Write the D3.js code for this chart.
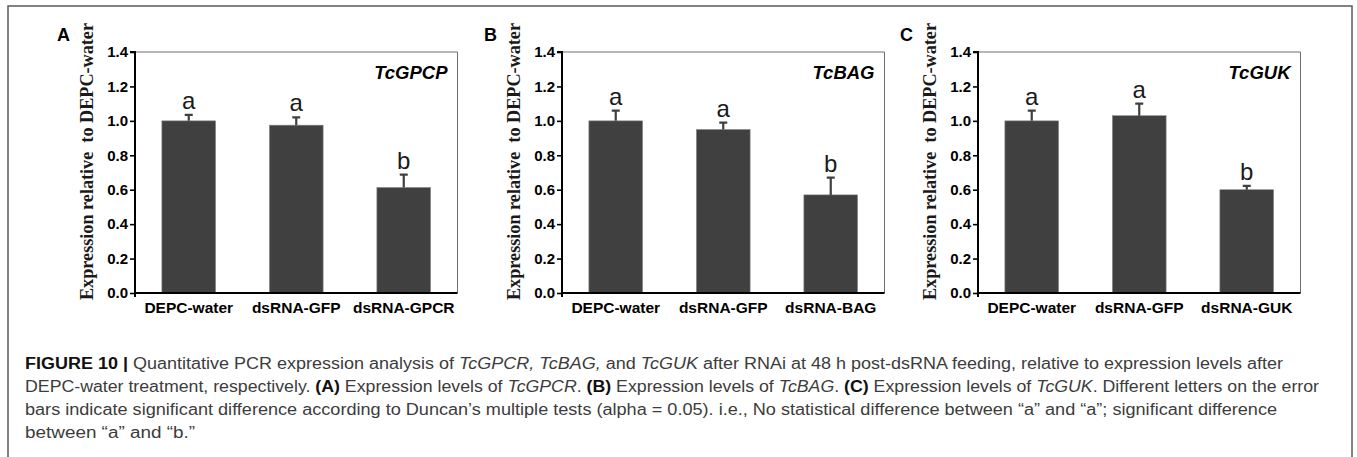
<!DOCTYPE html>
<html>
<head>
<meta charset="utf-8">
<script src="https://cdn.jsdelivr.net/npm/d3@7"></script>
<style>
  html, body { margin: 0; padding: 0; background: #fff; }
  svg { display: block; }
  text { white-space: pre; }
</style>
</head>
<body>
<svg id="chart" width="1357" height="457"></svg>
<script>
// ---- Data ----
const panelLabels = ["A", "B", "C"];
const genes = ["TcGPCP", "TcBAG", "TcGUK"];
const categoriesA = ["DEPC-water", "dsRNA-GFP", "dsRNA-GPCR"];
const categoriesB = ["DEPC-water", "dsRNA-GFP", "dsRNA-BAG"];
const categoriesC = ["DEPC-water", "dsRNA-GFP", "dsRNA-GUK"];
const valuesA = [1.00, 0.975, 0.613];
const valuesB = [1.00, 0.95, 0.57];
const valuesC = [1.00, 1.03, 0.60];
const errorsA = [0.035, 0.045, 0.075];
const errorsB = [0.06, 0.04, 0.10];
const errorsC = [0.06, 0.07, 0.022];
const lettersA = ["a", "a", "b"];
const lettersB = ["a", "a", "b"];
const lettersC = ["a", "a", "b"];
const yTicks = [0, 0.2, 0.4, 0.6, 0.8, 1.0, 1.2, 1.4];
const yLabel = "Expression relative  to DEPC-water";

const panels = [
  { label: panelLabels[0], gene: genes[0], cats: categoriesA, vals: valuesA, errs: errorsA, letters: lettersA },
  { label: panelLabels[1], gene: genes[1], cats: categoriesB, vals: valuesB, errs: errorsB, letters: lettersB },
  { label: panelLabels[2], gene: genes[2], cats: categoriesC, vals: valuesC, errs: errorsC, letters: lettersC }
];

// ---- Layout ----
const svg = d3.select("#chart");
const plotLefts = [135, 562, 978];
const plotW = 322.5;
const plotTop = 52, plotBottom = 293;
const barColor = "#404040";

// outer frame
svg.append("rect")
  .attr("x", 8).attr("y", 6).attr("width", 1344).attr("height", 480)
  .attr("fill", "none").attr("stroke", "#5a5a5a").attr("stroke-width", 1.5);

const y = d3.scaleLinear().domain([0, 1.4]).range([plotBottom, plotTop]);

panels.forEach((p, i) => {
  const left = plotLefts[i];
  const x = d3.scaleBand().domain(p.cats).range([left, left + plotW])
    .paddingInner(0.5).paddingOuter(0.25);
  const g = svg.append("g");

  // top and right border
  g.append("path")
    .attr("d", `M${left},${plotTop}H${left + plotW}V${plotBottom}`)
    .attr("fill", "none").attr("stroke", "#6e6e6e").attr("stroke-width", 1);

  // bars
  g.selectAll("rect.bar").data(p.vals).join("rect")
    .attr("class", "bar")
    .attr("x", (d, j) => x(p.cats[j]))
    .attr("width", x.bandwidth())
    .attr("y", d => y(d))
    .attr("height", d => y(0) - y(d))
    .attr("fill", barColor)
    .attr("stroke", "#8a8a8a").attr("stroke-width", 0.6);

  // error bars (upper only)
  const cx = j => x(p.cats[j]) + x.bandwidth() / 2;
  g.selectAll("path.err").data(p.vals).join("path")
    .attr("class", "err")
    .attr("d", (d, j) => {
      const t = y(d + p.errs[j]);
      return `M${cx(j)},${y(d)}V${t}M${cx(j) - 4},${t}H${cx(j) + 4}`;
    })
    .attr("fill", "none").attr("stroke", barColor).attr("stroke-width", 2.2);

  // significance letters
  g.selectAll("text.sig").data(p.letters).join("text")
    .attr("class", "sig")
    .attr("x", (d, j) => cx(j))
    .attr("y", (d, j) => y(p.vals[j] + p.errs[j]) - 6)
    .attr("text-anchor", "middle")
    .attr("font-family", "Liberation Sans, Arial, sans-serif")
    .attr("font-size", 24)
    .attr("fill", "#1a1a1a")
    .text(d => d);

  // y axis
  const yAxis = d3.axisLeft(y).tickValues(yTicks).tickFormat(d3.format(".1f"))
    .tickSize(5).tickPadding(2);
  const ya = g.append("g").attr("transform", `translate(${left},0)`).call(yAxis);
  ya.select(".domain").attr("stroke", "#000").attr("stroke-width", 2)
    .attr("d", `M-5,${plotTop}H0V${plotBottom + 4}`);
  ya.selectAll(".tick line").attr("stroke", "#000").attr("stroke-width", 1.6);
  ya.selectAll(".tick text")
    .attr("font-family", "Liberation Sans, Arial, sans-serif")
    .attr("font-weight", "bold").attr("font-size", 15).attr("fill", "#000");

  // x axis
  const xAxis = d3.axisBottom(x).tickSize(0).tickPadding(9);
  const xa = g.append("g").attr("transform", `translate(0,${plotBottom})`).call(xAxis);
  xa.select(".domain").attr("stroke", "#000").attr("stroke-width", 2)
    .attr("d", `M${left},0H${left + plotW}`);
  xa.selectAll(".tick text")
    .attr("font-family", "Liberation Sans, Arial, sans-serif")
    .attr("font-weight", "bold").attr("font-size", 15.5).attr("fill", "#000")
    .attr("dy", "0.71em");

  // gene title
  g.append("text")
    .attr("x", left + plotW - 10).attr("y", 79)
    .attr("text-anchor", "end")
    .attr("font-family", "Liberation Sans, Arial, sans-serif")
    .attr("font-weight", "bold").attr("font-style", "italic")
    .attr("font-size", 18.5).attr("fill", "#000")
    .text(p.gene);

  // panel label
  g.append("text")
    .attr("x", left - 78).attr("y", 41)
    .attr("font-family", "Liberation Sans, Arial, sans-serif")
    .attr("font-weight", "bold").attr("font-size", 18).attr("fill", "#000")
    .text(p.label);

  // y label
  g.append("text")
    .attr("transform", `translate(${left - 42},161.5) rotate(-90)`)
    .attr("text-anchor", "middle")
    .attr("font-family", "Liberation Serif, Times New Roman, serif")
    .attr("font-weight", "bold").attr("font-size", 18.5).attr("fill", "#1a1a1a")
    .attr("textLength", 277).attr("lengthAdjust", "spacingAndGlyphs")
    .text(yLabel);
});

// ---- Caption ----
const captionLines = [
  [["b", "FIGURE 10 | "], ["n", "Quantitative PCR expression analysis of "], ["i", "TcGPCR, TcBAG,"], ["n", " and "], ["i", "TcGUK"], ["n", " after RNAi at 48 h post-dsRNA feeding, relative to expression levels after"]],
  [["n", "DEPC-water treatment, respectively. "], ["b", "(A)"], ["n", " Expression levels of "], ["i", "TcGPCR"], ["n", ". "], ["b", "(B)"], ["n", " Expression levels of "], ["i", "TcBAG"], ["n", ". "], ["b", "(C)"], ["n", " Expression levels of "], ["i", "TcGUK"], ["n", ". Different letters on the error"]],
  [["n", "bars indicate significant difference according to Duncan\u2019s multiple tests (alpha = 0.05). i.e., No statistical difference between \u201ca\u201d and \u201ca\u201d; significant difference"]],
  [["n", "between \u201ca\u201d and \u201cb.\u201d"]]
];
const captionWidths = [1258, 1294, 1252, 170];
const capX = 25, capY0 = 369, capDY = 23;
captionLines.forEach((line, k) => {
  const t = svg.append("text")
    .attr("x", capX).attr("y", capY0 + k * capDY)
    .attr("font-family", "Liberation Sans Narrow, Arial Narrow, Liberation Sans, sans-serif")
    .attr("font-size", 16).attr("fill", "#3c3c3c")
    .attr("textLength", captionWidths[k]).attr("lengthAdjust", "spacingAndGlyphs");
  line.forEach(([style, str]) => {
    const ts = t.append("tspan").text(str);
    if (style === "b") ts.attr("font-weight", "bold").attr("fill", "#111");
    if (style === "i") ts.attr("font-style", "italic");
  });
});
</script>
</body>
</html>
